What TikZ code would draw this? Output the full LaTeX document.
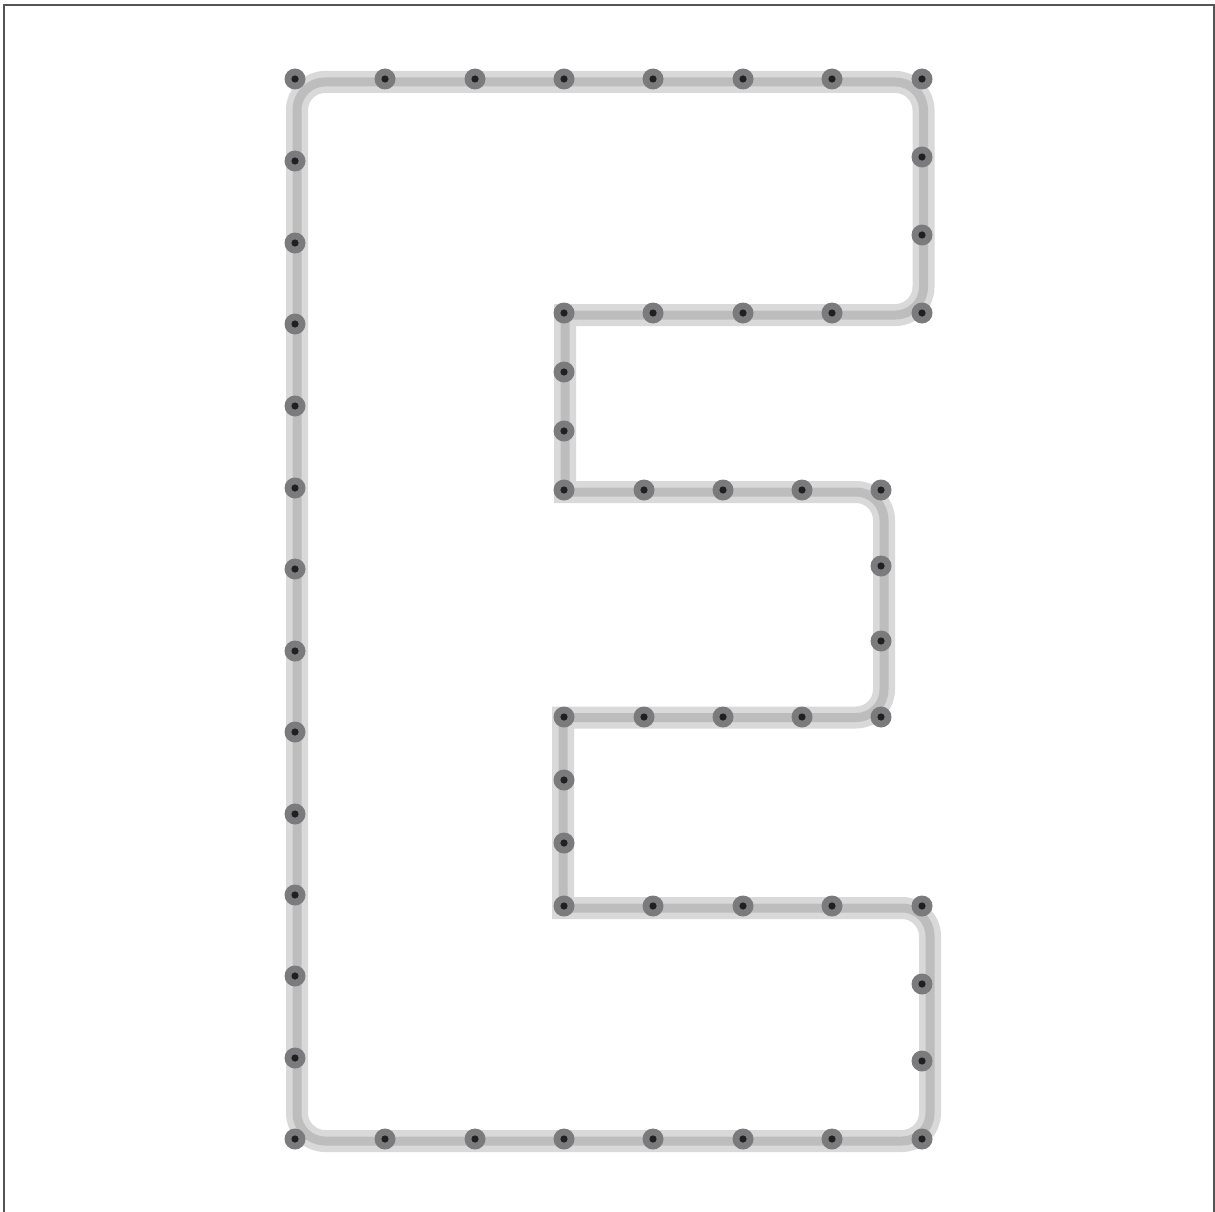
\documentclass[tikz,border=0pt]{standalone}
\usetikzlibrary{positioning, calc}

\definecolor{bandlight}{HTML}{D9D9D9}
\definecolor{banddark}{HTML}{BDBDBD}
\definecolor{dotgray}{HTML}{7B7B7D}
\definecolor{dotcore}{HTML}{231F20}
\definecolor{framegray}{HTML}{555555}

\begin{document}
\begin{tikzpicture}[
    x=1pt, y=-1pt,
    dot/.style={circle, fill=dotgray, minimum size=21pt, inner sep=0pt,
                path picture={\fill[dotcore] (path picture bounding box.center)
                  circle (3.6pt);}},
    outerband/.style={draw=bandlight, line width=22pt},
    innerband/.style={draw=banddark, line width=9pt},
    framestyle/.style={draw=framegray, line width=2pt}
  ]
  \useasboundingbox (0,0) rectangle (1215,1212);

  % open frame
  \coordinate (fbl) at (4,1214);
  \coordinate (ftl) at (4,5);
  \coordinate (ftr) at (1214,5);
  \coordinate (fbr) at (1214,1214);
  \draw[framestyle] (fbl) -- (ftl) -- (ftr) -- (fbr);

  % corners of the traced letter
  \coordinate (c1)  at (297,82);
  \coordinate (c2)  at (923.5,82);
  \coordinate (c3)  at (923.5,315);
  \coordinate (c4)  at (565,315);
  \coordinate (c5)  at (565,492);
  \coordinate (c6)  at (884,492);
  \coordinate (c7)  at (884,717.5);
  \coordinate (c8)  at (563,717.5);
  \coordinate (c9)  at (563,908);
  \coordinate (c10) at (930,908);
  \coordinate (c11) at (930,1141);
  \coordinate (c12) at (297,1141);
  \coordinate (cstart) at ($(c1)!0.5!(c12)$);

  % band: wide light stroke, narrow darker stroke on top
  \foreach \bandstyle in {outerband, innerband} {
    \path[\bandstyle, rounded corners=28pt]
      (cstart) -- (c1) -- (c2) -- (c3) [sharp corners] -- (c4)
      -- (c5) [rounded corners=28pt] -- (c6) -- (c7) [sharp corners] -- (c8)
      -- (c9) [rounded corners=28pt] -- (c10) -- (c11) -- (c12) -- cycle;
  }

  % top row and bottom row
  \foreach \x [count=\i] in {295,385,475,564,653,743,832,922} {
    \node[dot] (top\i) at (\x,79) {};
    \node[dot] (bot\i) at (\x,1139) {};
  }

  % left column
  \foreach \y [count=\i] in {161,243,324,406,488,569,651,732,814,895,976,1058} {
    \node[dot] (left\i) at (295,\y) {};
  }

  % upper arm
  \foreach \y [count=\i] in {157,235,313} {
    \node[dot] (ura\i) at (922,\y) {};
  }
  \foreach \x [count=\i] in {564,653,743,832} {
    \node[dot] (uarm\i) at (\x,313) {};
  }
  \foreach \y [count=\i] in {372,431} {
    \node[dot] (uin\i) at (564,\y) {};
  }

  % middle arm
  \foreach \x [count=\i] in {564,644,723,802,881} {
    \node[dot] (mtop\i) at (\x,490) {};
    \node[dot] (mbot\i) at (\x,717) {};
  }
  \foreach \y [count=\i] in {566,641} {
    \node[dot] (mra\i) at (881,\y) {};
  }

  % lower arm
  \foreach \y [count=\i] in {780,843} {
    \node[dot] (lin\i) at (564,\y) {};
  }
  \foreach \x [count=\i] in {564,653,743,832,922} {
    \node[dot] (larm\i) at (\x,906) {};
  }
  \foreach \y [count=\i] in {984,1061} {
    \node[dot] (lra\i) at (922,\y) {};
  }
\end{tikzpicture}
\end{document}
